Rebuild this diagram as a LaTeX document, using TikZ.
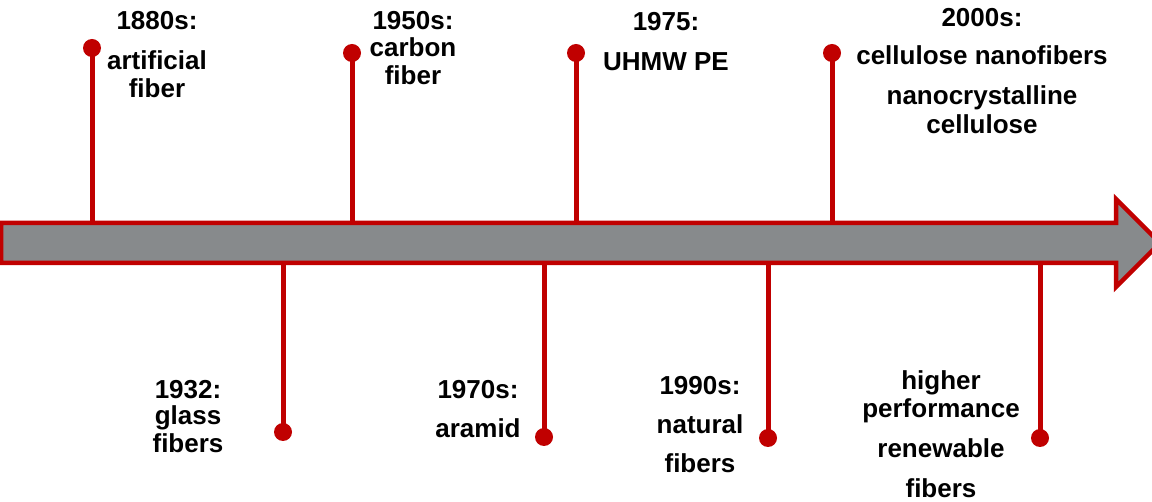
\documentclass[tikz,border=0pt]{standalone}
\usepackage{fontspec}
\setmainfont{Liberation Sans}
\definecolor{tlred}{HTML}{C00000}
\definecolor{tlgray}{HTML}{878A8C}
\tikzset{
  lbl/.style={anchor=base, inner sep=0pt, font=\bfseries\fontsize{26}{28}\selectfont, text=black},
  dotnode/.style={circle, fill=tlred, minimum size=18pt, inner sep=0pt},
  stem/.style={draw=tlred, line width=5pt},
  timearrow/.style={draw=tlred, fill=tlgray, line width=4.5pt, line join=miter}
}
\begin{document}
\begin{tikzpicture}[x=1pt, y=-1pt]
\useasboundingbox (0,0) rectangle (1152,502);
\clip (0,0) rectangle (1152,502);
% stems
\node[dotnode] (d1880) at (92,48) {};
\node[dotnode] (d1950) at (352,53) {};
\node[dotnode] (d1975) at (576,53) {};
\node[dotnode] (d2000) at (832,53) {};
\node[dotnode] (d1932) at (283,432) {};
\node[dotnode] (d1970) at (544,437) {};
\node[dotnode] (d1990) at (768,438) {};
\node[dotnode] (dfut) at (1040,438) {};
\coordinate (a1880) at (92,224);
\coordinate (a1950) at (352,224);
\coordinate (a1975) at (576,224);
\coordinate (a2000) at (832,224);
\coordinate (a1932) at (283,262);
\coordinate (a1970) at (544,262);
\coordinate (a1990) at (768,262);
\coordinate (afut) at (1040,262);
\draw[stem] (d1880.center) -- (a1880);
\draw[stem] (d1950.center) -- (a1950);
\draw[stem] (d1975.center) -- (a1975);
\draw[stem] (d2000.center) -- (a2000);
\draw[stem] (d1932.center) -- (a1932);
\draw[stem] (d1970.center) -- (a1970);
\draw[stem] (d1990.center) -- (a1990);
\draw[stem] (dfut.center) -- (afut);
% arrow
\draw[timearrow] (1,223) -- (1116,223) -- (1116,199) -- (1160,243) -- (1116,287) -- (1116,263) -- (1,263) -- cycle;
% labels top
\node[lbl] (t1880) at (157,30) {1880s:};
\node[lbl] (t1880a) at (157,70) {artificial};
\node[lbl] (t1880b) at (157,98) {fiber};
\node[lbl] (t1950) at (413,30) {1950s:};
\node[lbl] (t1950a) at (413,57) {carbon};
\node[lbl] (t1950b) at (413,85) {fiber};
\node[lbl] (t1975) at (666,31) {1975:};
\node[lbl] (t1975a) at (666,71) {UHMW PE};
\node[lbl] (t2000) at (982,27) {2000s:};
\node[lbl] (t2000a) at (982,65) {cellulose nanofibers};
\node[lbl] (t2000b) at (982,105) {nanocrystalline};
\node[lbl] (t2000c) at (982,134) {cellulose};
% labels bottom
\node[lbl] (t1932) at (188,399) {1932:};
\node[lbl] (t1932a) at (188,425) {glass};
\node[lbl] (t1932b) at (188,453) {fibers};
\node[lbl] (t1970) at (478,399) {1970s:};
\node[lbl] (t1970a) at (478,438) {aramid};
\node[lbl] (t1990) at (700,395) {1990s:};
\node[lbl] (t1990a) at (700,434) {natural};
\node[lbl] (t1990b) at (700,473) {fibers};
\node[lbl] (tfut) at (941,390) {higher};
\node[lbl] (tfuta) at (941,418) {performance};
\node[lbl] (tfutb) at (941,458) {renewable};
\node[lbl] (tfutc) at (941,498) {fibers};
\end{tikzpicture}
\end{document}
